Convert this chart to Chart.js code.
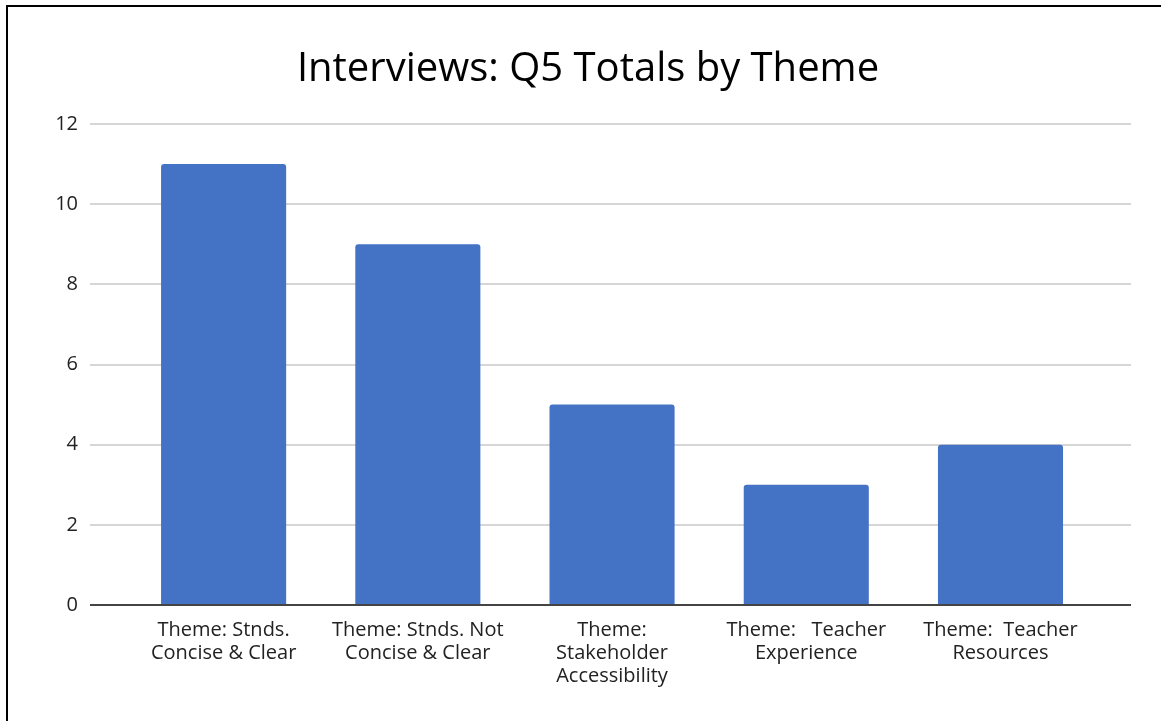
<!DOCTYPE html>
<html>
<head>
<meta charset="utf-8">
<script src="https://cdn.jsdelivr.net/npm/chart.js@4.4.1/dist/chart.umd.min.js"></script>
<style>
  html, body { margin: 0; padding: 0; background: #fff; }
  #wrap { width: 1161px; height: 721px; position: relative; }
</style>
</head>
<body>
<div id="wrap"><canvas id="c" width="1161" height="721"></canvas></div>
<script>
const chartTitle = "Interviews: Q5 Totals by Theme";
const categories = [
  ["Theme: Stnds.", "Concise & Clear"],
  ["Theme: Stnds. Not", "Concise & Clear"],
  ["Theme:", "Stakeholder", "Accessibility"],
  ["Theme:   Teacher", "Experience"],
  ["Theme:  Teacher", "Resources"]
];
const totals = [11, 9, 5, 3, 4];
const yMin = 0, yMax = 12, yStep = 2;

const FONT = "'Open Sans', 'Noto Sans', sans-serif";

const framePlugin = {
  id: 'frame',
  beforeDraw(chart) {
    const ctx = chart.ctx;
    ctx.save();
    ctx.fillStyle = '#fff';
    ctx.fillRect(0, 0, chart.width, chart.height);
    ctx.fillStyle = '#000';
    ctx.fillRect(6, 5, 2, chart.height - 5);
    ctx.fillRect(6, 5, chart.width - 6, 2);
    // title
    ctx.font = "normal 40px " + FONT;
    ctx.textAlign = 'center';
    ctx.textBaseline = 'alphabetic';
    ctx.fillStyle = '#000';
    ctx.fillText(chartTitle, 588, 81);
    ctx.restore();
  },
  beforeDatasetsDraw(chart) {
    const ctx = chart.ctx;
    const y = chart.scales.y;
    const x0 = 90, x1 = 1131;
    ctx.save();
    y.ticks.forEach(t => {
      if (t.value === 0) return;
      const py = Math.round(y.getPixelForValue(t.value));
      ctx.strokeStyle = '#c8c8c8';
      ctx.lineWidth = 1.5;
      ctx.beginPath();
      ctx.moveTo(x0, py);
      ctx.lineTo(x1, py);
      ctx.stroke();
    });
    ctx.restore();
  },
  afterDatasetsDraw(chart) {
    const ctx = chart.ctx;
    const y = chart.scales.y;
    const py = Math.round(y.getPixelForValue(0));
    ctx.save();
    ctx.strokeStyle = '#444';
    ctx.lineWidth = 2;
    ctx.beginPath();
    ctx.moveTo(90, py);
    ctx.lineTo(1131, py);
    ctx.stroke();
    ctx.restore();
  }
};

new Chart(document.getElementById('c'), {
  type: 'bar',
  data: {
    labels: categories,
    datasets: [{
      data: totals,
      backgroundColor: '#4472c4',
      borderWidth: 0,
      borderRadius: { topLeft: 3, topRight: 3, bottomLeft: 0, bottomRight: 0 },
      borderSkipped: false,
      categoryPercentage: 1.0,
      barPercentage: 0.644
    }]
  },
  options: {
    responsive: false,
    animation: false,
    devicePixelRatio: 1,
    layout: { padding: { left: 0, right: 63.4, top: 124, bottom: 0 } },
    plugins: {
      legend: { display: false },
      tooltip: { enabled: false },
      title: { display: false }
    },
    scales: {
      x: {
        grid: { display: false, drawTicks: false },
        border: { display: false },
        ticks: {
          color: '#222',
          font: { family: FONT, size: 20, lineHeight: 1.15 },
          padding: 14,
          maxRotation: 0,
          autoSkip: false
        },
        afterFit(scale) { scale.height = 116; }
      },
      y: {
        min: yMin,
        max: yMax,
        grid: { display: false, drawTicks: false },
        border: { display: false },
        ticks: {
          stepSize: yStep,
          color: '#222',
          font: { family: FONT, size: 20 },
          padding: 48.5
        },
        afterFit(scale) { scale.width = 126.5; }
      }
    }
  },
  plugins: [framePlugin]
});
</script>
</body>
</html>
